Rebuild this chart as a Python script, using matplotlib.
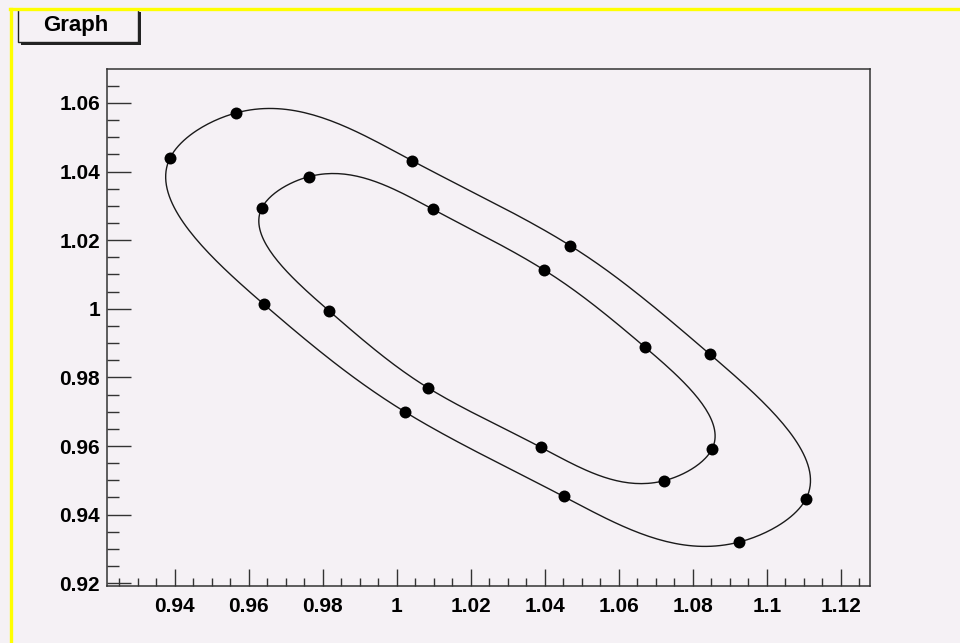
import numpy as np
import matplotlib.pyplot as plt
from matplotlib.patches import Rectangle
from matplotlib.lines import Line2D
from matplotlib.ticker import MultipleLocator, FuncFormatter

# points (two closed contours)
outer_x = [0.9388, 0.9566, 1.0041, 1.0469, 1.0847, 1.1106, 1.0925, 1.0451, 1.0023, 0.9640]
outer_y = [1.0441, 1.0571, 1.0432, 1.0184, 0.9867, 0.9446, 0.9320, 0.9453, 0.9699, 1.0014]
inner_x = [0.9636, 0.9762, 1.0098, 1.0397, 1.0670, 1.0852, 1.0723, 1.0390, 1.0084, 0.9816]
inner_y = [1.0295, 1.0385, 1.0290, 1.0114, 0.9889, 0.9591, 0.9499, 0.9596, 0.9770, 0.9995]

x_range = (0.9217, 1.1279)
y_range = (0.9192, 1.0699)
title = "Graph"

W, H = 960, 643
bg = '#f5f1f5'
ink = '#1a1a1a'


def closed_spline(xs, ys, sx, sy, n=40):
    # periodic cubic spline, chord-length parametrised, in screen-like units
    p = np.column_stack([np.asarray(xs) * sx, np.asarray(ys) * sy])
    m = len(p)
    h = np.linalg.norm(np.roll(p, -1, axis=0) - p, axis=1)
    A = np.zeros((m, m))
    rhs = np.zeros((m, 2))
    for i in range(m):
        hp, hn = h[i - 1], h[i]
        A[i, i - 1] += hp
        A[i, i] += 2 * (hp + hn)
        A[i, (i + 1) % m] += hn
        rhs[i] = 6 * ((p[(i + 1) % m] - p[i]) / hn - (p[i] - p[i - 1]) / hp)
    M = np.linalg.solve(A, rhs)
    segs = []
    for i in range(m):
        j = (i + 1) % m
        t = np.linspace(0, h[i], n, endpoint=False)[:, None]
        a = (h[i] - t) / h[i]
        b = t / h[i]
        segs.append(a * p[i] + b * p[j] + ((a**3 - a) * M[i] + (b**3 - b) * M[j]) * h[i]**2 / 6)
    segs.append(p[:1])
    pts = np.vstack(segs)
    return pts[:, 0] / sx, pts[:, 1] / sy


plt.rcParams['font.family'] = ['Liberation Sans', 'DejaVu Sans']

fig = plt.figure(figsize=(W / 100, H / 100), dpi=100, facecolor=bg)
left, right, top, bottom = 107, 870, 69, 586
ax = fig.add_axes([left / W, 1 - bottom / H, (right - left) / W, (bottom - top) / H])
ax.set_facecolor(bg)

sx = (right - left) / (x_range[1] - x_range[0])
sy = (bottom - top) / (y_range[1] - y_range[0])

for xs, ys in [(outer_x, outer_y), (inner_x, inner_y)]:
    cx, cy = closed_spline(xs, ys, sx, sy)
    ax.plot(cx, cy, color=ink, lw=1.0)
    ax.plot(xs, ys, 'o', color='black', ms=8.6, mew=0)

ax.set_xlim(*x_range)
ax.set_ylim(*y_range)

fmt = FuncFormatter(lambda v, _: f'{v:g}')
ax.xaxis.set_major_locator(MultipleLocator(0.02))
ax.xaxis.set_minor_locator(MultipleLocator(0.005))
ax.yaxis.set_major_locator(MultipleLocator(0.02))
ax.yaxis.set_minor_locator(MultipleLocator(0.005))
ax.xaxis.set_major_formatter(fmt)
ax.yaxis.set_major_formatter(fmt)

ax.tick_params(which='both', direction='in', color='#333333', width=1.0,
               labelsize=15, labelcolor='black')
ax.tick_params(axis='x', which='major', length=12.5, pad=8)
ax.tick_params(axis='x', which='minor', length=6)
ax.tick_params(axis='y', which='major', length=17, pad=5)
ax.tick_params(axis='y', which='minor', length=8.5)
for lab in ax.get_xticklabels() + ax.get_yticklabels():
    lab.set_fontweight('bold')
for sp in ax.spines.values():
    sp.set_color('#333333')
    sp.set_linewidth(1.1)


# title box with shadow, ROOT style
def fx(px):
    return px / W


def fy(py):
    return 1 - py / H


fig.add_artist(Rectangle((fx(21), fy(45)), fx(138) - fx(18), fy(9) - fy(42),
                         transform=fig.transFigure, facecolor='#222222',
                         edgecolor='none', zorder=3))
fig.add_artist(Rectangle((fx(18), fy(42)), fx(138) - fx(18), fy(9) - fy(42),
                         transform=fig.transFigure, facecolor=bg,
                         edgecolor='#222222', lw=1.0, zorder=4))
fig.text(fx(76), fy(31), title, ha='center', va='baseline', fontsize=16,
         fontweight='bold', color='black', zorder=5)

# yellow canvas border
fig.add_artist(Line2D([fx(10), 1.0], [fy(8.5), fy(8.5)], transform=fig.transFigure,
                      color='#ffff00', lw=2.4, zorder=6))
fig.add_artist(Line2D([fx(11.3), fx(11.3)], [fy(8.5), 0.0], transform=fig.transFigure,
                      color='#ffff00', lw=2.4, zorder=6))

fig.savefig('out.png', dpi=100, facecolor=bg)
